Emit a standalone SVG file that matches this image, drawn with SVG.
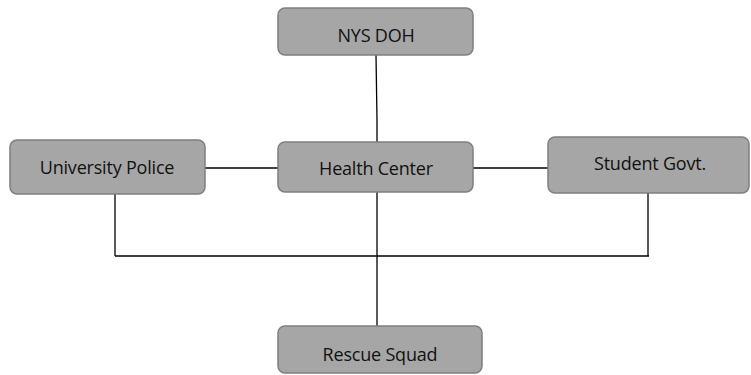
<svg xmlns="http://www.w3.org/2000/svg" width="751" height="375" viewBox="0 0 751 375">
<style>
.box{fill:#a6a6a6;stroke:#7f7f7f;stroke-width:1.5}
.lbl{font-family:"Open Sans","Liberation Sans",sans-serif;font-size:18px;fill:#111;text-anchor:middle;dominant-baseline:central;letter-spacing:-0.2px}
.ln{stroke:#000;stroke-width:1.3;fill:none}
</style>
<rect width="751" height="375" fill="#fff"/>
<g id="connectors">
<polyline class="ln" points="376,55 377,120 377,142"/>
<line class="ln" x1="205" y1="168" x2="278" y2="168"/>
<line class="ln" x1="473" y1="168" x2="548" y2="168"/>
<line class="ln" x1="115" y1="194" x2="115" y2="256"/>
<line class="ln" x1="648" y1="193" x2="648" y2="256"/>
<line class="ln" x1="115" y1="256" x2="649" y2="256"/>
<line class="ln" x1="377" y1="192" x2="377" y2="326"/>
</g>
<g id="nys-doh"><rect class="box" x="278" y="8" width="195" height="47" rx="7"/><text class="lbl" x="376" y="35">NYS DOH</text></g>
<g id="health-center"><rect class="box" x="278" y="142" width="195" height="50" rx="7"/><text class="lbl" x="376" y="168">Health Center</text></g>
<g id="university-police"><rect class="box" x="10" y="140" width="195" height="54" rx="7"/><text class="lbl" x="107" y="167">University Police</text></g>
<g id="student-govt"><rect class="box" x="548" y="137" width="201" height="56" rx="7"/><text class="lbl" x="650" y="163">Student Govt.</text></g>
<g id="rescue-squad"><rect class="box" x="278" y="326" width="204" height="47" rx="7"/><text class="lbl" x="380" y="354">Rescue Squad</text></g>
</svg>
